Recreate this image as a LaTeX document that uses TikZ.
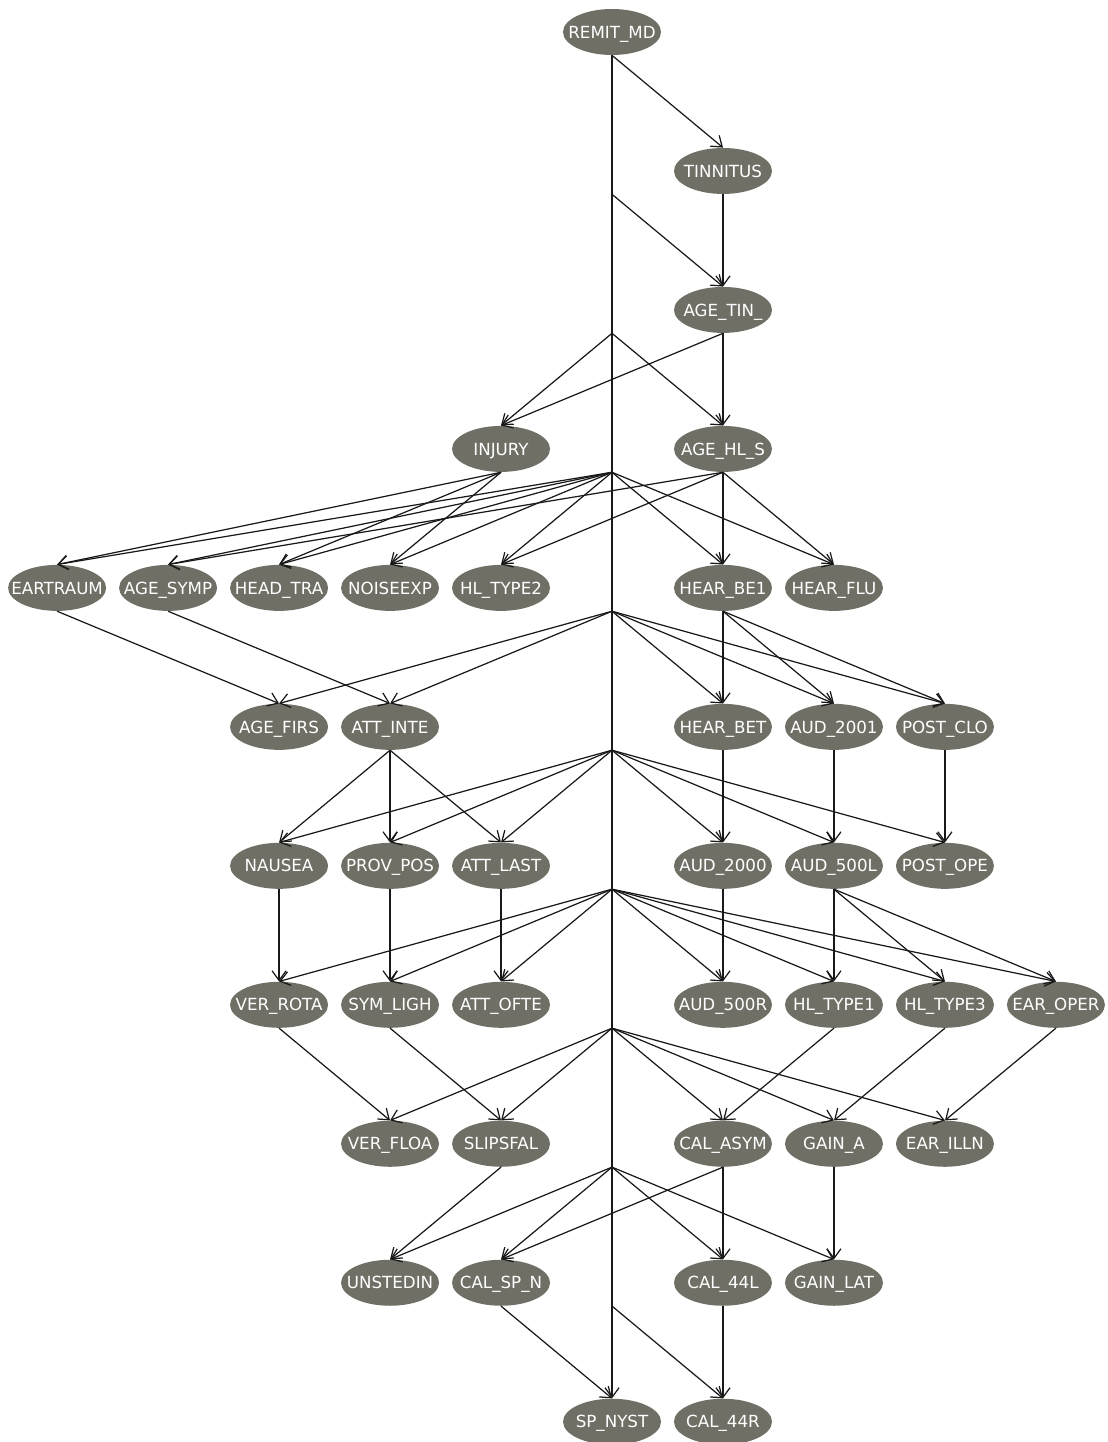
\documentclass[tikz,border=0pt]{standalone}
\usepackage{fontspec}
\setmainfont{DejaVu Sans}
\usetikzlibrary{arrows.meta,positioning,shapes.geometric}

\definecolor{nodegray}{RGB}{112,111,102}

\begin{document}
\begin{tikzpicture}[
    x=0.02cm, y=-0.02cm,
    on grid,
    node distance=2.78cm and 2.22cm,
    bnode/.style={ellipse,fill=nodegray,text=white,minimum width=1.96cm,minimum height=0.92cm,inner sep=0pt,
      font=\fontsize{9.5}{11}\selectfont,text height=7pt,text depth=0pt,
      execute at begin node={\hbox to 0pt\bgroup\hss},execute at end node={\hss\egroup}},
    link/.style={-{Straight Barb[length=5.5pt,width=8pt]},line width=0.7pt,draw=black!90}
]
\useasboundingbox (0,0) rectangle (1107,1442);

% Root
\node[bnode] (remit) at (612,32) {REMIT\_MD};

% Upper ranks
\node[bnode,below right=of remit] (tinnitus) {TINNITUS};
\node[bnode,below=of tinnitus] (agetin) {AGE\_TIN\_};
\node[bnode,below=of agetin] (agehls) {AGE\_HL\_S};
\node[bnode,left=4.44cm of agehls] (injury) {INJURY};

% Rank 4
\node[bnode,below=of agehls] (hearbe1) {HEAR\_BE1};
\node[bnode,right=of hearbe1] (hearflu) {HEAR\_FLU};
\node[bnode,below=of injury] (hltype2) {HL\_TYPE2};
\node[bnode,left=of hltype2] (noiseexp) {NOISEEXP};
\node[bnode,left=of noiseexp] (headtra) {HEAD\_TRA};
\node[bnode,left=of headtra] (agesymp) {AGE\_SYMP};
\node[bnode,left=of agesymp] (eartraum) {EARTRAUM};

% Rank 5
\node[bnode,below=of hearbe1] (hearbet) {HEAR\_BET};
\node[bnode,right=of hearbet] (aud2001) {AUD\_2001};
\node[bnode,right=of aud2001] (postclo) {POST\_CLO};
\node[bnode,below=of noiseexp] (attinte) {ATT\_INTE};
\node[bnode,left=of attinte] (agefirs) {AGE\_FIRS};

% Rank 6
\node[bnode,below=of agefirs] (nausea) {NAUSEA};
\node[bnode,right=of nausea] (provpos) {PROV\_POS};
\node[bnode,right=of provpos] (attlast) {ATT\_LAST};
\node[bnode,below=of hearbet] (aud2000) {AUD\_2000};
\node[bnode,right=of aud2000] (aud500l) {AUD\_500L};
\node[bnode,right=of aud500l] (postope) {POST\_OPE};

% Rank 7
\node[bnode,below=of nausea] (verrota) {VER\_ROTA};
\node[bnode,right=of verrota] (symligh) {SYM\_LIGH};
\node[bnode,right=of symligh] (attofte) {ATT\_OFTE};
\node[bnode,below=of aud2000] (aud500r) {AUD\_500R};
\node[bnode,right=of aud500r] (hltype1) {HL\_TYPE1};
\node[bnode,right=of hltype1] (hltype3) {HL\_TYPE3};
\node[bnode,right=of hltype3] (earoper) {EAR\_OPER};

% Rank 8
\node[bnode,below=of symligh] (verfloa) {VER\_FLOA};
\node[bnode,right=of verfloa] (slipsfal) {SLIPSFAL};
\node[bnode,below=of aud500r] (calasym) {CAL\_ASYM};
\node[bnode,right=of calasym] (gaina) {GAIN\_A};
\node[bnode,right=of gaina] (earilln) {EAR\_ILLN};

% Rank 9
\node[bnode,below=of verfloa] (unstedin) {UNSTEDIN};
\node[bnode,right=of unstedin] (calspn) {CAL\_SP\_N};
\node[bnode,below=of calasym] (cal44l) {CAL\_44L};
\node[bnode,right=of cal44l] (gainlat) {GAIN\_LAT};

% Rank 10
\node[bnode,below right=of calspn] (spnyst) {SP\_NYST};
\node[bnode,right=of spnyst] (cal44r) {CAL\_44R};

% Bends on the REMIT_MD trunk
\coordinate (b2) at (remit |- tinnitus.south);
\coordinate (b3) at (remit |- agetin.south);
\coordinate (b4) at (remit |- agehls.south);
\coordinate (b5) at (remit |- hearbe1.south);
\coordinate (b6) at (remit |- hearbet.south);
\coordinate (b7) at (remit |- aud2000.south);
\coordinate (b8) at (remit |- aud500r.south);
\coordinate (b9) at (remit |- calasym.south);
\coordinate (b10) at (remit |- cal44l.south);

% Trunk arrows
\draw[link] (remit.south) -- (tinnitus.north);
\draw[link] (remit.south) -- (spnyst.north);
\draw[link] (remit.south) -- (b2) -- (agetin.north);
\draw[link] (remit.south) -- (b3) -- (injury.north);
\draw[link] (remit.south) -- (b3) -- (agehls.north);
\draw[link] (remit.south) -- (b4) -- (eartraum.north);
\draw[link] (remit.south) -- (b4) -- (agesymp.north);
\draw[link] (remit.south) -- (b4) -- (headtra.north);
\draw[link] (remit.south) -- (b4) -- (noiseexp.north);
\draw[link] (remit.south) -- (b4) -- (hltype2.north);
\draw[link] (remit.south) -- (b4) -- (hearbe1.north);
\draw[link] (remit.south) -- (b4) -- (hearflu.north);
\draw[link] (remit.south) -- (b5) -- (agefirs.north);
\draw[link] (remit.south) -- (b5) -- (attinte.north);
\draw[link] (remit.south) -- (b5) -- (hearbet.north);
\draw[link] (remit.south) -- (b5) -- (aud2001.north);
\draw[link] (remit.south) -- (b5) -- (postclo.north);
\draw[link] (remit.south) -- (b6) -- (nausea.north);
\draw[link] (remit.south) -- (b6) -- (provpos.north);
\draw[link] (remit.south) -- (b6) -- (attlast.north);
\draw[link] (remit.south) -- (b6) -- (aud2000.north);
\draw[link] (remit.south) -- (b6) -- (aud500l.north);
\draw[link] (remit.south) -- (b6) -- (postope.north);
\draw[link] (remit.south) -- (b7) -- (verrota.north);
\draw[link] (remit.south) -- (b7) -- (symligh.north);
\draw[link] (remit.south) -- (b7) -- (attofte.north);
\draw[link] (remit.south) -- (b7) -- (aud500r.north);
\draw[link] (remit.south) -- (b7) -- (hltype1.north);
\draw[link] (remit.south) -- (b7) -- (hltype3.north);
\draw[link] (remit.south) -- (b7) -- (earoper.north);
\draw[link] (remit.south) -- (b8) -- (verfloa.north);
\draw[link] (remit.south) -- (b8) -- (slipsfal.north);
\draw[link] (remit.south) -- (b8) -- (calasym.north);
\draw[link] (remit.south) -- (b8) -- (gaina.north);
\draw[link] (remit.south) -- (b8) -- (earilln.north);
\draw[link] (remit.south) -- (b9) -- (unstedin.north);
\draw[link] (remit.south) -- (b9) -- (calspn.north);
\draw[link] (remit.south) -- (b9) -- (cal44l.north);
\draw[link] (remit.south) -- (b9) -- (gainlat.north);
\draw[link] (remit.south) -- (b10) -- (cal44r.north);

% Other arrows
\draw[link] (tinnitus.south) -- (agetin.north);
\draw[link] (agetin.south) -- (injury.north);
\draw[link] (agetin.south) -- (agehls.north);
\draw[link] (injury.south) -- (eartraum.north);
\draw[link] (injury.south) -- (headtra.north);
\draw[link] (injury.south) -- (noiseexp.north);
\draw[link] (agehls.south) -- (agesymp.north);
\draw[link] (agehls.south) -- (hltype2.north);
\draw[link] (agehls.south) -- (hearbe1.north);
\draw[link] (agehls.south) -- (hearflu.north);
\draw[link] (eartraum.south) -- (agefirs.north);
\draw[link] (agesymp.south) -- (attinte.north);
\draw[link] (hearbe1.south) -- (hearbet.north);
\draw[link] (hearbe1.south) -- (aud2001.north);
\draw[link] (hearbe1.south) -- (postclo.north);
\draw[link] (attinte.south) -- (nausea.north);
\draw[link] (attinte.south) -- (provpos.north);
\draw[link] (attinte.south) -- (attlast.north);
\draw[link] (hearbet.south) -- (aud2000.north);
\draw[link] (aud2001.south) -- (aud500l.north);
\draw[link] (postclo.south) -- (postope.north);
\draw[link] (nausea.south) -- (verrota.north);
\draw[link] (provpos.south) -- (symligh.north);
\draw[link] (attlast.south) -- (attofte.north);
\draw[link] (aud2000.south) -- (aud500r.north);
\draw[link] (aud500l.south) -- (hltype1.north);
\draw[link] (aud500l.south) -- (hltype3.north);
\draw[link] (aud500l.south) -- (earoper.north);
\draw[link] (verrota.south) -- (verfloa.north);
\draw[link] (symligh.south) -- (slipsfal.north);
\draw[link] (hltype1.south) -- (calasym.north);
\draw[link] (hltype3.south) -- (gaina.north);
\draw[link] (earoper.south) -- (earilln.north);
\draw[link] (slipsfal.south) -- (unstedin.north);
\draw[link] (calasym.south) -- (calspn.north);
\draw[link] (calasym.south) -- (cal44l.north);
\draw[link] (gaina.south) -- (gainlat.north);
\draw[link] (calspn.south) -- (spnyst.north);
\draw[link] (cal44l.south) -- (cal44r.north);

\end{tikzpicture}
\end{document}
